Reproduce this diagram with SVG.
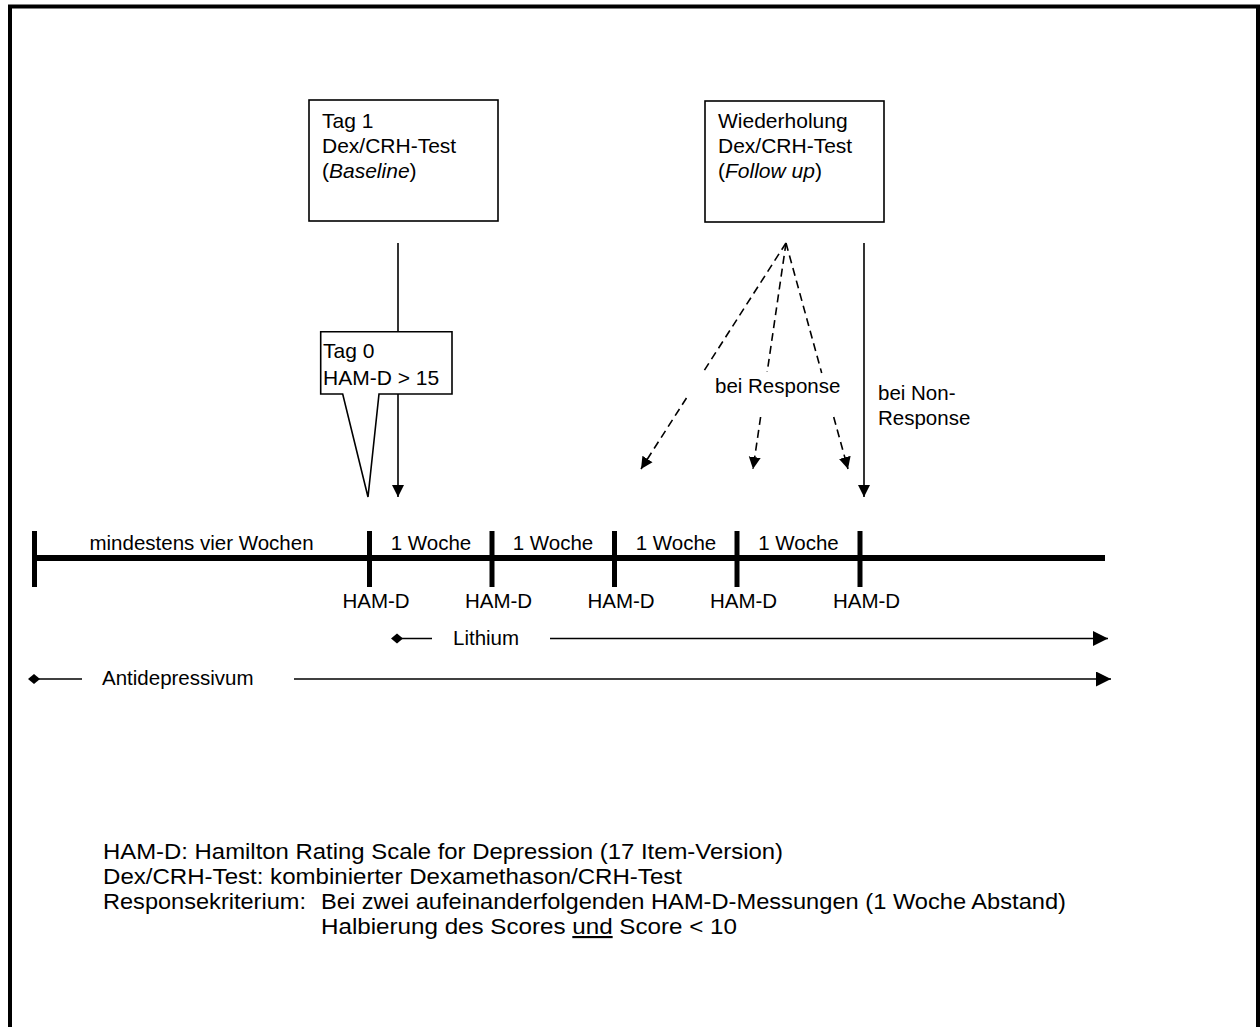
<svg xmlns="http://www.w3.org/2000/svg" width="1260" height="1027" viewBox="0 0 1260 1027">
<style>
text{font-family:"Liberation Sans",Arial,sans-serif;fill:#000}
.bx{font-size:21px}
.tl{font-size:20.5px}
.lg{font-size:21.5px}
.box{fill:#fff;stroke:#000;stroke-width:1.6}
.ln{stroke:#000;stroke-width:1.6;fill:none}
.dash{stroke:#000;stroke-width:1.6;fill:none;stroke-dasharray:8 5}
.axis{stroke:#000;stroke-width:6;fill:none}
.tick{stroke:#000;stroke-width:5}
</style>
<defs>
<marker id="ah" markerUnits="userSpaceOnUse" markerWidth="12" markerHeight="14" refX="12" refY="6" orient="auto" viewBox="0 0 12 12">
<path d="M0,0 L12,6 L0,12 z" fill="#000"/>
</marker>
<marker id="ahl" markerUnits="userSpaceOnUse" markerWidth="15" markerHeight="15" refX="15" refY="7.5" orient="auto" viewBox="0 0 15 15">
<path d="M0,0 L15,7.5 L0,15 z" fill="#000"/>
</marker>
<marker id="dm" markerUnits="userSpaceOnUse" markerWidth="12" markerHeight="12" refX="6" refY="6" orient="auto" viewBox="0 0 12 12">
<path d="M0,6 L6,1 L12,6 L6,11 z" fill="#000"/>
</marker>
</defs>
<rect x="10" y="6.5" width="1248" height="1040" fill="#fff" stroke="#000" stroke-width="4"/>

<g id="connectors">
<line class="ln" x1="398" y1="243" x2="398" y2="497" marker-end="url(#ah)"/>
<line class="ln" x1="864" y1="243" x2="864" y2="497" marker-end="url(#ah)"/>
<line class="dash" x1="786" y1="243" x2="702.6" y2="373"/>
<line class="dash" x1="686.5" y1="398" x2="641" y2="469" marker-end="url(#ah)"/>
<line class="dash" x1="786" y1="243" x2="767.2" y2="372"/>
<line class="dash" x1="760.6" y1="417" x2="753" y2="469" marker-end="url(#ah)"/>
<line class="dash" x1="786" y1="243" x2="821.7" y2="373"/>
<line class="dash" x1="833.7" y1="417" x2="848" y2="469" marker-end="url(#ah)"/>
<line class="ln" x1="397" y1="638.5" x2="432" y2="638.5" marker-start="url(#dm)"/>
<line class="ln" x1="550" y1="638.5" x2="1108" y2="638.5" marker-end="url(#ahl)"/>
<line class="ln" x1="34" y1="679" x2="82" y2="679" marker-start="url(#dm)"/>
<line class="ln" x1="294" y1="679" x2="1111" y2="679" marker-end="url(#ahl)"/>
</g>

<g id="baseline-box">
<rect class="box" x="309" y="100" width="189" height="121"/>
<text class="bx" x="322" y="128">Tag 1</text>
<text class="bx" x="322" y="153">Dex/CRH-Test</text>
<text class="bx" x="322" y="178">(<tspan font-style="italic">Baseline</tspan>)</text>
</g>

<g id="followup-box">
<rect class="box" x="705" y="101" width="179" height="121"/>
<text class="bx" x="718" y="128">Wiederholung</text>
<text class="bx" x="718" y="153">Dex/CRH-Test</text>
<text class="bx" x="718" y="178">(<tspan font-style="italic">Follow up</tspan>)</text>
</g>

<g id="tag0-callout">
<path class="box" d="M320.7,331.7 H452 V394 H379 L368,497 L342.7,394 H320.7 Z"/>
<text class="bx" x="323" y="358">Tag 0</text>
<text class="bx" x="323" y="385">HAM-D &gt; 15</text>
</g>

<g id="response-labels">
<text class="tl" x="715" y="393">bei Response</text>
<text class="tl" x="878" y="400">bei Non-</text>
<text class="tl" x="878" y="425">Response</text>
</g>

<g id="timeline">
<line class="axis" x1="34" y1="558" x2="1105" y2="558"/>
<line class="tick" x1="34.5" y1="531" x2="34.5" y2="587"/>
<line class="tick" x1="369.5" y1="531" x2="369.5" y2="587"/>
<line class="tick" x1="492" y1="531" x2="492" y2="587"/>
<line class="tick" x1="614.5" y1="531" x2="614.5" y2="587"/>
<line class="tick" x1="737" y1="531" x2="737" y2="587"/>
<line class="tick" x1="860" y1="531" x2="860" y2="587"/>
<text class="tl" x="201.5" y="550" text-anchor="middle">mindestens vier Wochen</text>
<text class="tl" x="431" y="550" text-anchor="middle">1 Woche</text>
<text class="tl" x="553" y="550" text-anchor="middle">1 Woche</text>
<text class="tl" x="676" y="550" text-anchor="middle">1 Woche</text>
<text class="tl" x="798.5" y="550" text-anchor="middle">1 Woche</text>
<text class="tl" x="376" y="608" text-anchor="middle">HAM-D</text>
<text class="tl" x="498.5" y="608" text-anchor="middle">HAM-D</text>
<text class="tl" x="621" y="608" text-anchor="middle">HAM-D</text>
<text class="tl" x="743.5" y="608" text-anchor="middle">HAM-D</text>
<text class="tl" x="866.5" y="608" text-anchor="middle">HAM-D</text>
<text class="tl" x="453" y="645">Lithium</text>
<text class="tl" x="102" y="685">Antidepressivum</text>
</g>

<g id="legend">
<text class="lg" x="103" y="859" textLength="680" lengthAdjust="spacingAndGlyphs">HAM-D: Hamilton Rating Scale for Depression (17 Item-Version)</text>
<text class="lg" x="103" y="884" textLength="579" lengthAdjust="spacingAndGlyphs">Dex/CRH-Test: kombinierter Dexamethason/CRH-Test</text>
<text class="lg" x="103" y="909" textLength="203" lengthAdjust="spacingAndGlyphs">Responsekriterium:</text>
<text class="lg" x="321" y="909" textLength="745" lengthAdjust="spacingAndGlyphs">Bei zwei aufeinanderfolgenden HAM-D-Messungen (1 Woche Abstand)</text>
<text class="lg" x="321" y="934" textLength="416" lengthAdjust="spacingAndGlyphs">Halbierung des Scores <tspan text-decoration="underline">und</tspan> Score &lt; 10</text>
</g>
</svg>
